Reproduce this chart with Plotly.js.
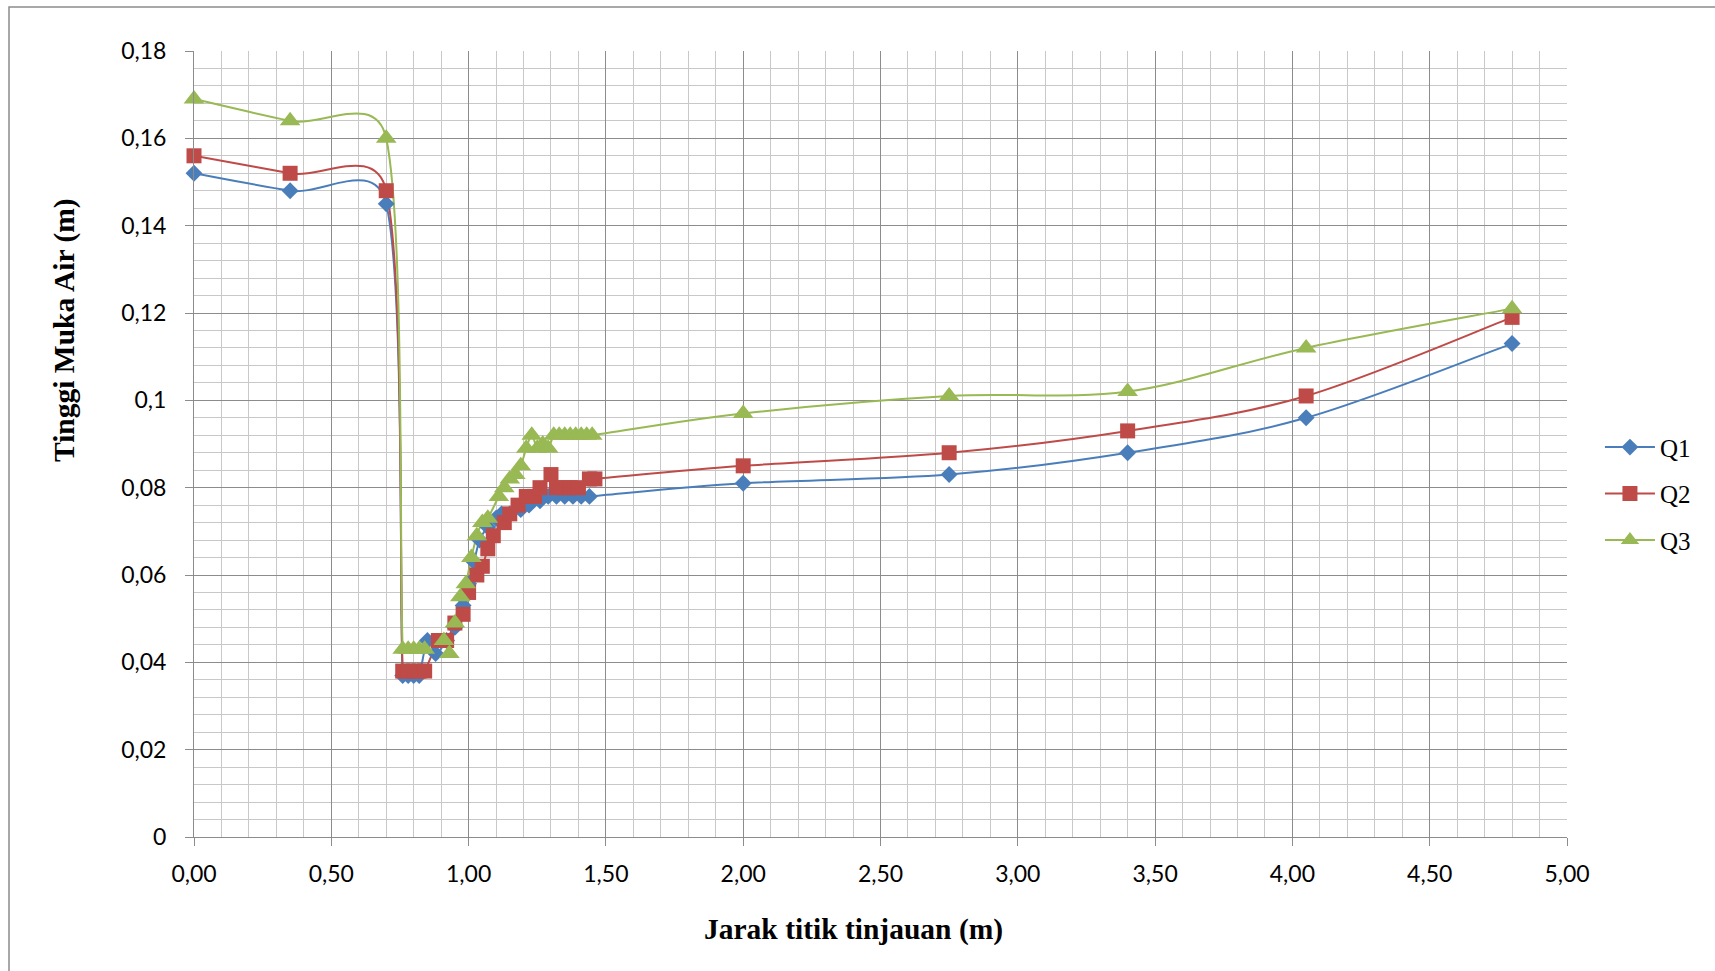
<!DOCTYPE html>
<html>
<head>
<meta charset="utf-8">
<script src="https://cdn.plot.ly/plotly-3.0.1.min.js"></script>
<style>html,body{margin:0;padding:0;background:#fff;}#chart{width:1715px;height:971px;}</style>
</head>
<body>
<div id="chart"></div>
<script>
// Q1 (blue diamonds)
var xQ1 = [0, 0.35, 0.70, 0.76, 0.78, 0.80, 0.82, 0.85, 0.88, 0.92, 0.95, 0.98, 1.00, 1.02, 1.04, 1.07, 1.10, 1.12, 1.15, 1.19, 1.22, 1.26, 1.29, 1.32, 1.35, 1.38, 1.41, 1.44, 2.00, 2.75, 3.40, 4.05, 4.80];
var yQ1 = [0.152, 0.148, 0.145, 0.037, 0.037, 0.037, 0.037, 0.045, 0.042, 0.045, 0.048, 0.053, 0.058, 0.063, 0.068, 0.071, 0.073, 0.074, 0.074, 0.075, 0.076, 0.077, 0.078, 0.078, 0.078, 0.078, 0.078, 0.078, 0.081, 0.083, 0.088, 0.096, 0.113];
// Q2 (red squares)
var xQ2 = [0, 0.35, 0.70, 0.76, 0.78, 0.80, 0.82, 0.84, 0.89, 0.92, 0.95, 0.98, 1.00, 1.03, 1.05, 1.07, 1.09, 1.13, 1.15, 1.18, 1.21, 1.24, 1.26, 1.30, 1.32, 1.35, 1.37, 1.40, 1.44, 1.46, 2.00, 2.75, 3.40, 4.05, 4.80];
var yQ2 = [0.156, 0.152, 0.148, 0.038, 0.038, 0.038, 0.038, 0.038, 0.045, 0.045, 0.049, 0.051, 0.056, 0.060, 0.062, 0.066, 0.069, 0.072, 0.074, 0.076, 0.078, 0.078, 0.080, 0.083, 0.080, 0.080, 0.080, 0.080, 0.082, 0.082, 0.085, 0.088, 0.093, 0.101, 0.119];
// Q3 (green triangles)
var xQ3 = [0, 0.35, 0.70, 0.76, 0.78, 0.80, 0.82, 0.84, 0.91, 0.93, 0.95, 0.97, 0.99, 1.01, 1.03, 1.05, 1.07, 1.11, 1.13, 1.15, 1.17, 1.19, 1.21, 1.23, 1.25, 1.27, 1.29, 1.31, 1.33, 1.35, 1.37, 1.39, 1.41, 1.43, 1.45, 2.00, 2.75, 3.40, 4.05, 4.80];
var yQ3 = [0.169, 0.164, 0.160, 0.043, 0.043, 0.043, 0.043, 0.043, 0.045, 0.042, 0.049, 0.055, 0.058, 0.064, 0.069, 0.072, 0.073, 0.078, 0.080, 0.082, 0.083, 0.085, 0.089, 0.092, 0.089, 0.090, 0.089, 0.092, 0.092, 0.092, 0.092, 0.092, 0.092, 0.092, 0.092, 0.097, 0.101, 0.102, 0.112, 0.121];

var seriesNames = ['Q1', 'Q2', 'Q3'];
var xTitle = 'Jarak titik tinjauan (m)';
var yTitle = 'Tinggi Muka Air (m)';

var colors = ['#4A7EBB', '#BE4B48', '#98B954'];
var symbols = ['diamond', 'square', 'triangle-up'];
var sizes = [13, 15, 18];
var xs = [xQ1, xQ2, xQ3];
var ys = [yQ1, yQ2, yQ3];

var X_RANGE = [0, 5], Y_RANGE = [0, 0.18];
var MARGIN = {l: 194, r: 148, t: 51, b: 134};
var W = 1715, H = 971;
var SX = (W - MARGIN.l - MARGIN.r) / (X_RANGE[1] - X_RANGE[0]);
var SY = (H - MARGIN.t - MARGIN.b) / (Y_RANGE[1] - Y_RANGE[0]);

// Excel-style smoothed line: Catmull-Rom Bezier with arms (P2-P0)/6, each arm
// limited to half of its segment length (measured on screen scale).
// Path is expressed in data units and drawn through the library's axes.
function smoothPath(X, Y) {
  var n = X.length, d = 'M' + X[0] + ',' + Y[0];
  function arm(ax, ay, segx, segy) {
    var la = Math.hypot(ax * SX, ay * SY), ls = Math.hypot(segx * SX, segy * SY) / 2;
    var f = (la > ls && la > 0) ? ls / la : 1;
    return [ax * f, ay * f];
  }
  for (var i = 0; i < n - 1; i++) {
    var i0 = Math.max(i - 1, 0), i3 = Math.min(i + 2, n - 1);
    var sx = X[i + 1] - X[i], sy = Y[i + 1] - Y[i];
    var a1 = arm((X[i + 1] - X[i0]) / 6, (Y[i + 1] - Y[i0]) / 6, sx, sy);
    var a2 = arm((X[i3] - X[i]) / 6, (Y[i3] - Y[i]) / 6, sx, sy);
    d += ' C' + (X[i] + a1[0]) + ',' + (Y[i] + a1[1]) + ' ' +
         (X[i + 1] - a2[0]) + ',' + (Y[i + 1] - a2[1]) + ' ' + X[i + 1] + ',' + Y[i + 1];
  }
  return d;
}

var data = [];
var shapes = [
  {type: 'rect', xref: 'paper', yref: 'paper', x0: (9 - 194) / 1373, x1: (1725 - 194) / 1373,
   y0: (837 - 990) / 786, y1: (837 - 7) / 786, line: {color: '#8c8c8c', width: 1.5}, layer: 'below'}
];
for (var k = 0; k < 3; k++) {
  shapes.push({type: 'path', xref: 'x', yref: 'y', path: smoothPath(xs[k], ys[k]),
               line: {color: colors[k], width: 2}, layer: 'between'});
}
for (var k = 0; k < 3; k++) {
  data.push({type: 'scatter', mode: 'markers', name: seriesNames[k], showlegend: false,
             x: xs[k], y: ys[k], cliponaxis: false,
             marker: {color: colors[k], symbol: symbols[k], size: sizes[k], line: {width: 0}}});
}
// legend entries (line + marker)
for (var k = 0; k < 3; k++) {
  data.push({type: 'scatter', mode: 'lines+markers', name: seriesNames[k], legendgroup: seriesNames[k],
             x: [null], y: [null],
             line: {color: colors[k], width: 2},
             marker: {color: colors[k], symbol: symbols[k], size: sizes[k], line: {width: 0}}});
}

var tickFont = {family: 'Lato, "Liberation Sans Narrow", sans-serif', size: 23, color: '#000'};
var serif = '"Liberation Serif", "Times New Roman", serif';

var layout = {
  width: W, height: H,
  margin: {l: MARGIN.l, r: MARGIN.r, t: MARGIN.t, b: MARGIN.b, pad: 0},
  paper_bgcolor: '#fff', plot_bgcolor: '#fff',
  separators: ',.',
  showlegend: true,
  legend: {
    x: 1.024, y: 0.525, xanchor: 'left', yanchor: 'top',
    font: {family: serif, size: 25, color: '#000'},
    traceorder: 'grouped', tracegroupgap: 11, itemwidth: 50,
    bgcolor: 'rgba(0,0,0,0)', borderwidth: 0
  },
  xaxis: {
    range: X_RANGE, dtick: 0.5, tick0: 0, tickformat: '.2f',
    showgrid: true, gridcolor: '#8c8c8c', gridwidth: 1,
    minor: {dtick: 0.1, showgrid: true, gridcolor: '#c8c8c8', gridwidth: 1, ticks: ''},
    showline: true, linecolor: '#8c8c8c', linewidth: 1,
    ticks: 'outside', ticklen: 8, tickcolor: '#8c8c8c', tickwidth: 1,
    ticklabelstandoff: 8,
    tickfont: tickFont, zeroline: false, fixedrange: true
  },
  yaxis: {
    range: Y_RANGE, dtick: 0.02, tick0: 0, tickformat: '~g',
    showgrid: true, gridcolor: '#8c8c8c', gridwidth: 1,
    minor: {dtick: 0.004, showgrid: true, gridcolor: '#c8c8c8', gridwidth: 1, ticks: ''},
    showline: true, linecolor: '#8c8c8c', linewidth: 1,
    ticks: 'outside', ticklen: 8, tickcolor: '#8c8c8c', tickwidth: 1,
    ticklabelstandoff: 14,
    tickfont: tickFont, zeroline: false, fixedrange: true
  },
  annotations: [
    {text: '<b>' + xTitle + '</b>', xref: 'paper', yref: 'paper', x: (853 - 194) / 1373, y: (837 - 929) / 786,
     xanchor: 'center', yanchor: 'middle', showarrow: false,
     font: {family: serif, size: 29.5, color: '#000'}},
    {text: '<b>' + yTitle + '</b>', xref: 'paper', yref: 'paper', x: (64 - 194) / 1373, y: (837 - 330) / 786,
     xanchor: 'center', yanchor: 'middle', textangle: -90, showarrow: false,
     font: {family: serif, size: 29.5, color: '#000'}}
  ],
  shapes: shapes
};

Plotly.newPlot('chart', data, layout, {staticPlot: true, displayModeBar: false});
</script>
</body>
</html>
